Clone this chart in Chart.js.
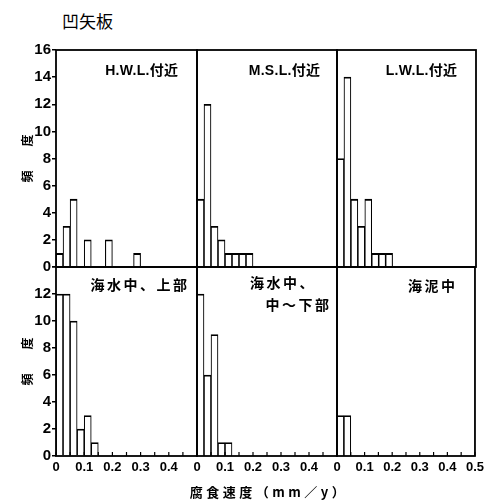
<!DOCTYPE html>
<html>
<head>
<meta charset="utf-8">
<script src="https://cdn.jsdelivr.net/npm/chart.js@4/dist/chart.umd.min.js"></script>
<style>
  html, body { margin: 0; padding: 0; background: #fff; }
  #wrap { position: relative; width: 491px; height: 504px; overflow: hidden; background: #fff; }
  #wrap canvas { position: absolute; }
  #mainTitle { position: absolute; left: 62px; top: 8px; font: 17px 'Noto Sans CJK JP', sans-serif; color: #000; }
</style>
</head>
<body>
<div id="wrap"><div id="mainTitle">凹矢板</div></div>
<script>
// Corrosion-rate classes (mm/y): lower edge of each 0.025-wide bin
const binStarts = [0, 0.025, 0.05, 0.075, 0.1, 0.125, 0.15, 0.175, 0.2, 0.225, 0.25, 0.275];
const binWidth = 0.025;

// Frequency per bin for each exposure zone
const countsHWL      = [1, 3, 5, 0, 2, 0, 0, 2, 0, 0, 0, 1];
const countsMSL      = [5, 12, 3, 2, 1, 1, 1, 1];
const countsLWL      = [8, 14, 5, 3, 5, 1, 1, 1];
const countsSeaUpper = [12, 12, 10, 2, 3, 1];
const countsSeaLower = [12, 6, 9, 1, 1];
const countsMud      = [3, 3];

// Zone names shown inside each panel
const zoneNames = ['H.W.L.付近', 'M.S.L.付近', 'L.W.L.付近', '海水中、上部', ['海水中、', '中～下部'], '海泥中'];

// Axis ranges and tick labels
const xMin = 0, xMax = 0.5, xStep = 0.05;
const xTickLabels = ['0', '0.1', '0.2', '0.3', '0.4', '0.5'];
const yMaxRows = [16, 14];
const yStep = 2;
const yTitle = '頻　　度';
const xTitle = '腐食速度（mm／y）';

// ---- layout (pixels) ----
const colX = [56, 197, 337], colW = [141, 140, 139];
const rowY = [50, 267], rowH = [217, 189];
const ML = 56, MT = 12, MR = 12, MB = 48;
const INK = '#000';
const tickFont = { family: "'Liberation Sans', Arial, sans-serif", size: 15, weight: 'bold' };
const xTickFont = { family: "'Liberation Sans', Arial, sans-serif", size: 13, weight: 'bold' };
const labelFont = "bold 14px 'Liberation Sans', 'Noto Sans CJK JP', sans-serif";

// where each zone name sits, relative to the plot frame
const nameLayout = [
  [{ align: 'right', dx: -19, dy: 21, sp: 0.3 }],
  [{ align: 'right', dx: -17, dy: 21, sp: 0.3 }],
  [{ align: 'right', dx: -19, dy: 21, sp: 0.3 }],
  [{ align: 'right', dx: -10, dy: 19, sp: 2.5 }],
  [{ align: 'left', dx: 53, dy: 17, sp: 2.5 }, { align: 'right', dx: -8, dy: 39, sp: 2.5 }],
  [{ align: 'right', dx: -20, dy: 20, sp: 2.5 }]
];

const panels = [
  { counts: countsHWL, row: 0, col: 0 },
  { counts: countsMSL, row: 0, col: 1 },
  { counts: countsLWL, row: 0, col: 2 },
  { counts: countsSeaUpper, row: 1, col: 0 },
  { counts: countsSeaLower, row: 1, col: 1 },
  { counts: countsMud, row: 1, col: 2 }
];

// frame, inward x ticks and the in-panel texts
const panelDecor = {
  id: 'panelDecor',
  afterDraw(chart, args, opts) {
    const { ctx, chartArea: a } = chart;
    ctx.save();
    ctx.strokeStyle = INK;
    ctx.lineWidth = 1.8;
    ctx.strokeRect(a.left, a.top, a.right - a.left, a.bottom - a.top);
    if (opts.innerTicks) {
      const xs = chart.scales.x;
      ctx.lineWidth = 1.2;
      xs.ticks.forEach(t => {
        const px = xs.getPixelForValue(t.value);
        ctx.beginPath();
        ctx.moveTo(px, a.bottom);
        ctx.lineTo(px, a.bottom - 4);
        ctx.stroke();
      });
    }
    ctx.fillStyle = INK;
    ctx.font = labelFont;
    ctx.textBaseline = 'middle';
    const lines = Array.isArray(opts.name) ? opts.name : [opts.name];
    lines.forEach((txt, i) => {
      const L = opts.layout[i];
      ctx.letterSpacing = L.sp + 'px';
      ctx.textAlign = L.align;
      const x = L.align === 'right' ? a.right + L.dx + L.sp : a.left + L.dx;
      ctx.fillText(txt, x, a.top + L.dy);
    });
    if (opts.axisTitle) {
      ctx.font = "bold 13px 'Noto Sans CJK JP', sans-serif";
      ctx.letterSpacing = '3.5px';
      ctx.textAlign = 'center';
      ctx.fillText(opts.axisTitle, (a.left + a.right) / 2 + 2, a.bottom + 36);
    }
    ctx.restore();
  }
};

const wrap = document.getElementById('wrap');

panels.forEach((p, idx) => {
  const cv = document.createElement('canvas');
  const w = colW[p.col] + ML + MR;
  const h = rowH[p.row] + MT + MB;
  cv.width = w; cv.height = h;
  cv.style.left = (colX[p.col] - ML) + 'px';
  cv.style.top = (rowY[p.row] - MT) + 'px';
  cv.style.width = w + 'px'; cv.style.height = h + 'px';
  wrap.appendChild(cv);

  const points = [];
  p.counts.forEach((c, i) => {
    if (c > 0) points.push({ x: binStarts[i] + binWidth / 2, y: c });
  });

  const bottomRow = p.row === 1;
  const leftCol = p.col === 0;
  const yMax = yMaxRows[p.row];

  new Chart(cv, {
    type: 'bar',
    data: {
      datasets: [{
        data: points,
        backgroundColor: '#fff',
        borderColor: INK,
        borderWidth: { top: 1.8, left: 1.1, right: 1.1, bottom: 0 },
        borderSkipped: false,
        barPercentage: 1,
        categoryPercentage: 1
      }]
    },
    options: {
      responsive: false,
      animation: false,
      devicePixelRatio: 1,
      layout: { padding: { top: MT, right: MR, left: 0, bottom: 0 } },
      plugins: {
        legend: { display: false },
        tooltip: { enabled: false },
        panelDecor: {
          name: zoneNames[idx],
          layout: nameLayout[idx],
          innerTicks: bottomRow,
          axisTitle: (bottomRow && p.col === 1) ? xTitle : null
        }
      },
      scales: {
        x: {
          type: 'linear',
          min: xMin, max: xMax,
          offset: false,
          grid: { display: false, drawTicks: false, offset: false },
          border: { display: false },
          ticks: {
            display: bottomRow,
            stepSize: xStep,
            autoSkip: false,
            maxRotation: 0,
            minRotation: 0,
            padding: 4,
            color: INK,
            font: xTickFont,
            callback: v => {
              const k = Math.round(v * 100);
              if (k % 10 !== 0) return '';
              const lab = xTickLabels[k / 10];
              if (k === 50 && p.col !== 2) return '';
              return lab;
            }
          },
          afterFit: s => { s.height = MB; }
        },
        y: {
          min: 0, max: yMax,
          grid: { display: leftCol, drawOnChartArea: false, drawTicks: true, tickLength: 4, color: INK, lineWidth: 1.5 },
          border: { display: false },
          ticks: {
            display: leftCol,
            stepSize: yStep,
            padding: 1,
            color: INK,
            font: tickFont,
            callback: v => (p.row === 1 && v === yMax) ? '' : String(v)
          },
          title: {
            display: leftCol,
            text: yTitle,
            color: INK,
            font: { family: "'Noto Sans CJK JP', sans-serif", size: 12, weight: 'bold' },
            padding: { top: 20, bottom: 0 }
          },
          afterFit: s => { s.width = ML; }
        }
      }
    },
    plugins: [panelDecor]
  });
});
</script>
</body>
</html>
